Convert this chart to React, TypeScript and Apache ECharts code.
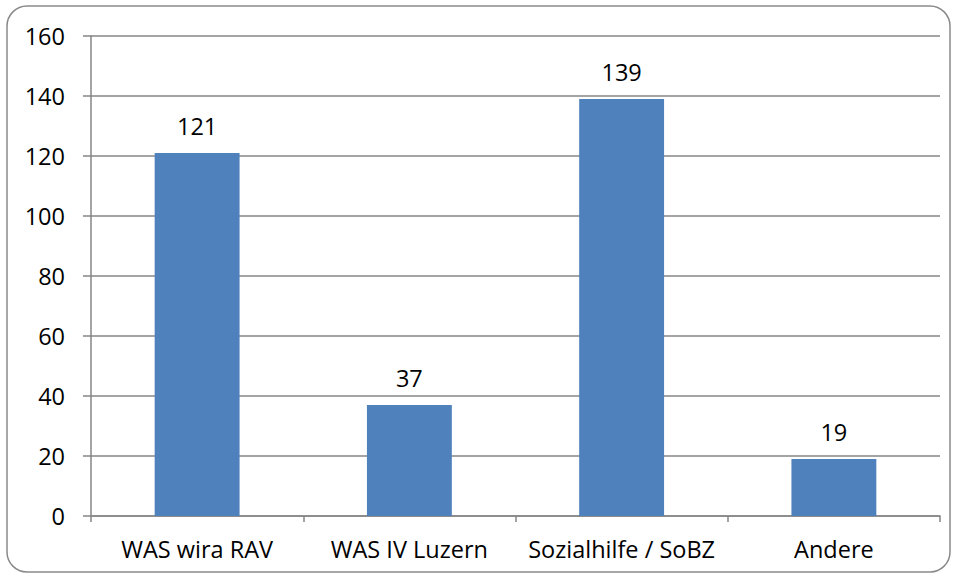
import React, { useEffect, useRef } from "react";
import * as echarts from "echarts";

const categories = ["WAS wira RAV", "WAS IV Luzern", "Sozialhilfe / SoBZ", "Andere"];
const values = [121, 37, 139, 19];

const FONT = "'Open Sans', 'Liberation Sans', sans-serif";
const FS = 23.5;

export default function App() {
  const ref = useRef<HTMLDivElement>(null);
  useEffect(() => {
    const chart = echarts.init(ref.current!, null, { renderer: "svg" });
    chart.setOption({
      animation: false,
      backgroundColor: "#ffffff",
      textStyle: { fontFamily: FONT },
      graphic: [
        {
          type: "rect",
          shape: { x: 7, y: 6, width: 943, height: 566, r: 20 },
          style: { fill: "none", stroke: "#8a8a8a", lineWidth: 1.5 },
          z: -1,
        },
      ],
      grid: { left: 91, right: 14, top: 36, bottom: 60, containLabel: false },
      xAxis: {
        type: "category",
        data: categories,
        axisLine: { show: true, lineStyle: { color: "#868686", width: 1.5 } },
        axisTick: { show: true, interval: 0, alignWithLabel: false, length: 6, lineStyle: { color: "#868686", width: 1.5 } },
        axisLabel: { color: "#000", fontSize: FS, margin: 21, interval: 0, hideOverlap: false, fontFamily: FONT },
        splitLine: { show: false },
      },
      yAxis: {
        type: "value",
        min: 0,
        max: 160,
        interval: 20,
        axisLine: { show: true, lineStyle: { color: "#868686", width: 1.5 } },
        axisTick: { show: true, length: 8, lineStyle: { color: "#868686", width: 1.5 } },
        axisLabel: { color: "#000", fontSize: FS, margin: 26, fontFamily: FONT },
        splitLine: { show: true, lineStyle: { color: "#868686", width: 1.5 } },
      },
      series: [
        {
          type: "bar",
          data: values,
          barWidth: "40%",
          itemStyle: { color: "#4F81BD" },
          label: {
            show: true,
            position: "top",
            distance: 15,
            color: "#000",
            fontSize: FS,
            fontFamily: FONT,
          },
        },
      ],
    });
    return () => chart.dispose();
  }, []);
  return <div ref={ref} style={{ width: 954, height: 576, position: "absolute", left: 0, top: 0 }} />;
}
